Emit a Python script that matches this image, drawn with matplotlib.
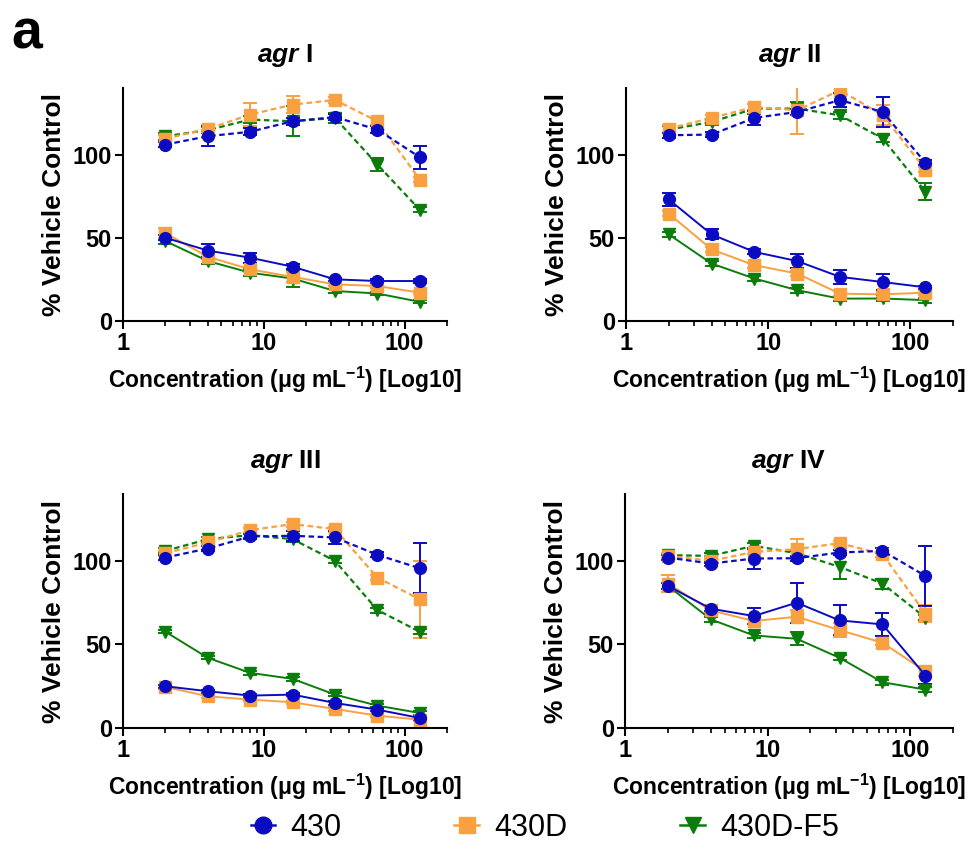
import numpy as np
import matplotlib
matplotlib.use("Agg")
import matplotlib.pyplot as plt
from matplotlib.lines import Line2D

plt.rcParams['font.family'] = ['Liberation Sans', 'DejaVu Sans']
plt.rcParams['mathtext.fontset'] = 'custom'
plt.rcParams['mathtext.rm'] = 'Liberation Sans:bold'
plt.rcParams['mathtext.it'] = 'Liberation Sans:bold:italic'
plt.rcParams['mathtext.bf'] = 'Liberation Sans:bold'

# concentrations (ug/mL)
conc = [2, 4, 8, 16, 32, 64, 128]
strains = ['430', '430D', '430D-F5']
colors = ['#0B0BC2', '#F9A040', '#0A7D0A']
markers = ['o', 's', 'v']

# each panel: rows = 430, 430D, 430D-F5
agrI_dash = [[106, 111, 113.7, 120, 122.5, 115, 98.4],
             [109.5, 115.5, 124, 130, 132.8, 120, 85],
             [111, 114.7, 121, 120, 122, 94, 66.8]]
agrI_dash_err = [[1.5, 6, 2, 2, 2, 2, 7],
                 [2, 2, 7, 5, 2, 2, 1.5],
                 [2, 2, 2, 9, 3, 4, 1.5]]
agrI_solid = [[50, 42.3, 38, 32.6, 25, 24, 24],
              [52.7, 38.6, 31, 26.5, 22, 21, 17],
              [48, 36, 29, 25.5, 18, 16.5, 11.5]]
agrI_solid_err = [[1.5, 4, 3, 1.5, 1, 1, 1],
                  [3, 1.5, 1.5, 3, 1, 1, 1],
                  [2, 2, 2, 5, 1, 1, 1]]

agrII_dash = [[111.6, 112, 122, 125.6, 132.7, 125.6, 95],
              [115.6, 122, 128.6, 126.6, 138.7, 123.6, 91],
              [115, 119.6, 127.6, 127.6, 123.6, 109.6, 77.6]]
agrII_dash_err = [[1.5, 1.5, 4, 2, 4, 9, 1.5],
                  [2, 2, 2, 14, 2, 6, 1.5],
                  [2, 2, 3, 4, 2, 2, 5]]
agrII_solid = [[73, 52, 41.5, 36, 26.5, 23.4, 20.2],
               [64.5, 43, 33.5, 28.5, 16.4, 16, 17],
               [52, 34.5, 25.5, 18.5, 13.4, 13.5, 12.5]]
agrII_solid_err = [[4, 3, 1.5, 4, 4, 5, 1],
                   [1.5, 1.5, 1.5, 1.5, 1.5, 1.5, 1.5],
                   [1.5, 1.5, 1.5, 1.5, 1.5, 1.5, 1.5]]

agrIII_dash = [[102, 107.4, 114.6, 115, 114, 103.6, 95.6],
               [104.6, 111, 118.4, 122, 119, 90, 77],
               [106, 113, 115.4, 113, 100, 70.6, 57.6]]
agrIII_dash_err = [[1.5, 1.5, 1.5, 3, 4, 1.5, 15],
                   [1.5, 1.5, 1.5, 1.5, 1.5, 1.5, 23],
                   [1.5, 1.5, 1.5, 2, 1.5, 1.5, 1.5]]
agrIII_solid = [[25, 22, 19.4, 20, 15, 11, 6],
                [24.6, 19, 17, 15.4, 11.4, 7.4, 5],
                [57.6, 42, 33, 29.4, 20, 13.4, 9]]
agrIII_solid_err = [[1, 1, 1, 1, 1, 1, 1],
                    [1, 1, 1, 1, 1, 1, 1],
                    [1, 1, 1, 1, 1, 1, 1]]

agrIV_dash = [[102, 98.4, 101.4, 101.6, 105, 106, 91],
              [103, 100, 105.4, 107, 110.6, 104, 68.4],
              [103.4, 103, 109, 104.6, 96.4, 86.4, 66]]
agrIV_dash_err = [[1.5, 1.5, 6, 1.5, 1.5, 1.5, 18],
                  [1.5, 1.5, 1.5, 6, 1.5, 1.5, 5],
                  [1.5, 1.5, 1.5, 1.5, 7, 3, 1.5]]
agrIV_solid = [[85, 71.4, 67, 75, 64.4, 62, 31.4],
               [86.4, 70.4, 64, 66.6, 58.6, 51, 34],
               [85, 65, 55.4, 53.4, 42, 27.4, 23]]
agrIV_solid_err = [[2, 1.5, 5, 12, 9, 7, 5],
                   [5, 1.5, 1.5, 4, 4, 1.5, 3],
                   [2, 1.5, 1.5, 4, 1.5, 1.5, 1.5]]

panels = [
    (r'$\mathit{agr}$ I', agrI_dash, agrI_dash_err, agrI_solid, agrI_solid_err),
    (r'$\mathit{agr}$ II', agrII_dash, agrII_dash_err, agrII_solid, agrII_solid_err),
    (r'$\mathit{agr}$ III', agrIII_dash, agrIII_dash_err, agrIII_solid, agrIII_solid_err),
    (r'$\mathit{agr}$ IV', agrIV_dash, agrIV_dash_err, agrIV_solid, agrIV_solid_err),
]

positions = [[0.1267, 0.6224, 0.3337, 0.2741],
             [0.6447, 0.6224, 0.3368, 0.2741],
             [0.1267, 0.1435, 0.3337, 0.2753],
             [0.6437, 0.1435, 0.3378, 0.2753]]

fig = plt.figure(figsize=(9.71, 8.5), dpi=100)

for pos, (title, dash, dash_err, solid, solid_err) in zip(positions, panels):
    ax = fig.add_axes(pos)
    for i in [2, 1, 0]:
        ms = 9 if markers[i] == 'v' else 8.5
        ax.errorbar(conc, solid[i], yerr=solid_err[i], color=colors[i],
                    marker=markers[i], ms=ms, lw=1.4, capsize=5,
                    elinewidth=1.4, capthick=1.4, ls='-')
        ax.errorbar(conc, dash[i], yerr=dash_err[i], color=colors[i],
                    marker=markers[i], ms=ms, lw=1.6, capsize=5,
                    elinewidth=1.4, capthick=1.4, ls=(0, (2.5, 1.6)))
    ax.set_xscale('log')
    ax.set_xlim(1, 200)
    ax.set_ylim(0, 140)
    ax.set_yticks([0, 50, 100])
    ax.set_xticks([1, 10, 100])
    ax.set_xticklabels(['1', '10', '100'])
    ax.spines['top'].set_visible(False)
    ax.spines['right'].set_visible(False)
    ax.spines['left'].set_linewidth(1.5)
    ax.spines['bottom'].set_linewidth(1.5)
    ax.tick_params(which='major', length=6, width=1.5, labelsize=17, pad=2)
    ax.tick_params(which='minor', length=3.5, width=1.2)
    for lab in ax.get_xticklabels() + ax.get_yticklabels():
        lab.set_fontweight('bold')
    ax.set_ylabel('% Vehicle Control', fontsize=19, fontweight='bold', labelpad=5)
    ax.set_xlabel(r'Concentration (μg mL$^{-1}$) [Log10]', fontsize=16.5,
                  fontweight='bold', labelpad=7)
    ax.set_title(title, fontsize=19, fontweight='bold', pad=19)

fig.text(0.012, 0.9435, 'a', fontsize=40, fontweight='bold', va='baseline')

handles = [Line2D([], [], color=colors[i], marker=markers[i], ms=12, lw=1.8)
           for i in range(3)]
fig.legend(handles, strains, loc='center', bbox_to_anchor=(0.561, 0.026),
           ncol=3, frameon=False, fontsize=22, handlelength=0.8,
           handletextpad=0.5, columnspacing=3.7)

fig.savefig('out.png', dpi=100)
